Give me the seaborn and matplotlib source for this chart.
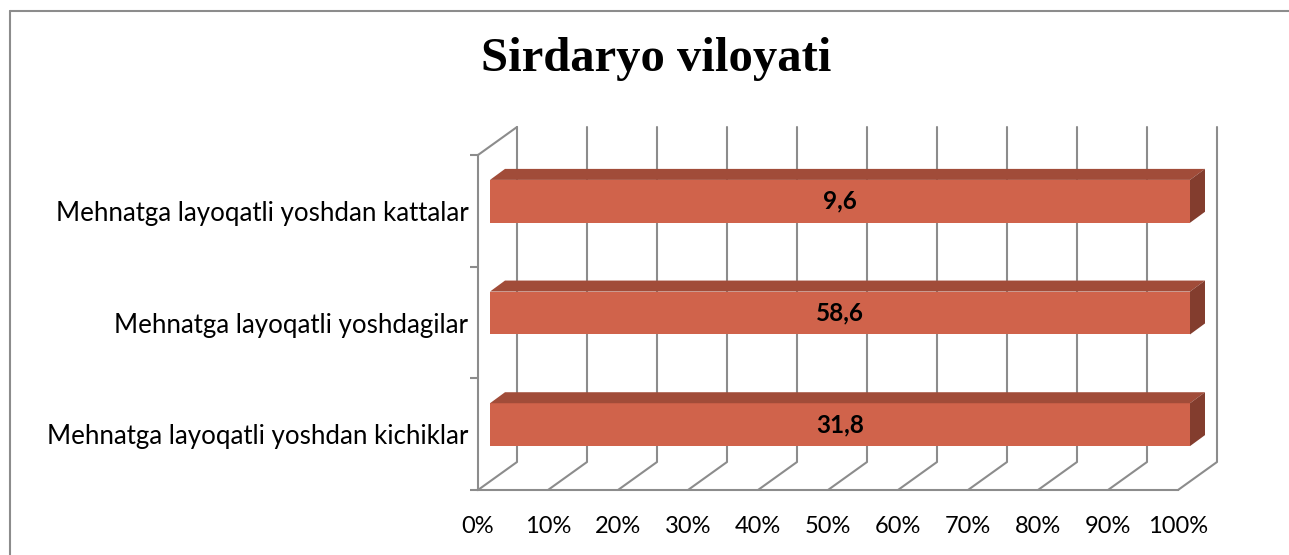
# plot.py

# LIBRARIES
import matplotlib
matplotlib.use('Agg')
import matplotlib.pyplot as plt
import matplotlib.transforms as mtransforms
from matplotlib.patches import Polygon
from matplotlib.lines import Line2D
import pandas as pd
import seaborn as sns


# DATA
categories = [
    'Mehnatga layoqatli yoshdan kattalar',
    'Mehnatga layoqatli yoshdagilar',
    'Mehnatga layoqatli yoshdan kichiklar',
]
values = [9.6, 58.6, 31.8]
value_labels = ['9,6', '58,6', '31,8']
x_ticks = [0, 10, 20, 30, 40, 50, 60, 70, 80, 90, 100]
x_tick_labels = [f'{t}%' for t in x_ticks]

# 100% stacked bar with a single series -> every bar fills its row
share = [v / v * 100 for v in values]
data = pd.DataFrame({'category': categories, 'share': share, 'label': value_labels})


# STYLE
FRONT = '#D0634B'
TOP = '#A14C39'
SIDE = '#833D2E'
GRID = '#8C8C8C'
W, H = 1289, 555

sns.set_style('white')
plt.rcParams['font.family'] = ['Lato', 'DejaVu Sans']
plt.rcParams['text.color'] = 'black'
plt.rcParams['xtick.labelcolor'] = 'black'
plt.rcParams['ytick.labelcolor'] = 'black'

fig = plt.figure(figsize=(W / 100, H / 100), dpi=100)
# front plane of the 3d box: x 478..1178 px, y 155..490 px (from top)
ax = fig.add_axes([478 / W, 65 / H, 700 / W, 335 / H])

sns.barplot(
    data=data,
    x='share',
    y='category',
    orient='h',
    color=FRONT,
    saturation=1,
    width=0.384,
    linewidth=0,
    ax=ax,
    zorder=3
)
ax.set_xlim(0, 100)
ax.set_ylim(2.5, -0.5)

# depth of the box and of the bars, in pixels
WALL_DX, WALL_DY = 39, 28
BAR_DX, BAR_DY = 12, 9.5
DEPTH_DX, DEPTH_DY = 15, 11


def shift(dx, dy):
    return ax.transData + mtransforms.ScaledTranslation(dx / fig.dpi, dy / fig.dpi, fig.dpi_scale_trans)


ident = mtransforms.IdentityTransform()
to_px = ax.transData.transform

# gridlines: floor diagonal + back wall vertical
for t in x_ticks:
    fx, fy = to_px((t, 2.5))
    _, ty = to_px((t, -0.5))
    ax.add_line(Line2D(
        [fx, fx + WALL_DX, fx + WALL_DX],
        [fy, fy + WALL_DY, ty + WALL_DY],
        color=GRID, lw=1.5, transform=ident, clip_on=False, zorder=1
    ))

# left wall top edge
lx, ly = to_px((0, -0.5))
ax.add_line(Line2D([lx, lx + WALL_DX], [ly, ly + WALL_DY],
                   color=GRID, lw=1.5, transform=ident, clip_on=False, zorder=1))

# 3d faces of the bars
for p, lab in zip(ax.patches, data['label']):
    p.set_transform(shift(BAR_DX, BAR_DY))
    p.set_clip_on(False)
    x0, y0, w, h = p.get_x(), p.get_y(), p.get_width(), p.get_height()
    (ax0, ay_top), (ax1, ay_bot) = to_px([(x0, y0), (x0 + w, y0 + h)])
    ax0, ax1 = ax0 + BAR_DX, ax1 + BAR_DX
    ay_top, ay_bot = ay_top + BAR_DY, ay_bot + BAR_DY
    ax.add_patch(Polygon(
        [(ax0, ay_top), (ax0 + DEPTH_DX, ay_top + DEPTH_DY),
         (ax1 + DEPTH_DX, ay_top + DEPTH_DY), (ax1, ay_top)],
        closed=True, facecolor=TOP, edgecolor='none',
        transform=ident, clip_on=False, zorder=3
    ))
    ax.add_patch(Polygon(
        [(ax1, ay_top), (ax1 + DEPTH_DX, ay_top + DEPTH_DY),
         (ax1 + DEPTH_DX, ay_bot + DEPTH_DY), (ax1, ay_bot)],
        closed=True, facecolor=SIDE, edgecolor='none',
        transform=ident, clip_on=False, zorder=3
    ))
    ax.text(x0 + w / 2, y0 + h / 2, lab, transform=shift(BAR_DX, BAR_DY),
            ha='center', va='center', fontsize=17.5, fontweight='bold',
            color='black', zorder=5)

# AXES
for side in ['top', 'right']:
    ax.spines[side].set_visible(False)
for side in ['left', 'bottom']:
    ax.spines[side].set_color(GRID)
    ax.spines[side].set_linewidth(1.5)
    ax.spines[side].set_zorder(1)

ax.set_xticks(x_ticks)
ax.set_xticklabels(x_tick_labels, fontsize=17)
ax.set_yticks([-0.5, 0.5, 1.5, 2.5], minor=True)
ax.tick_params(axis='x', length=6, width=1.5, color=GRID, pad=13, direction='out')
ax.tick_params(axis='y', which='major', length=0, pad=7, labelsize=18.6)
ax.tick_params(axis='y', which='minor', length=6, width=1.5, color=GRID, direction='out', left=True)
ax.set_xlabel('')
ax.set_ylabel('')
ax.set_facecolor('none')

# TITLE
fig.text(656 / W, 496 / H, 'Sirdaryo viloyati', ha='center', va='center',
         fontsize=35, fontweight='bold', family='Liberation Serif', color='black')

# OUTER BORDER
fig.add_artist(Line2D([9.5 / W, 1.0], [544.5 / H, 544.5 / H], color=GRID, lw=1.5,
                      transform=fig.transFigure))
fig.add_artist(Line2D([9.5 / W, 9.5 / W], [0, 544.5 / H], color=GRID, lw=1.5,
                      transform=fig.transFigure))

plt.savefig('out.png', dpi=100)
